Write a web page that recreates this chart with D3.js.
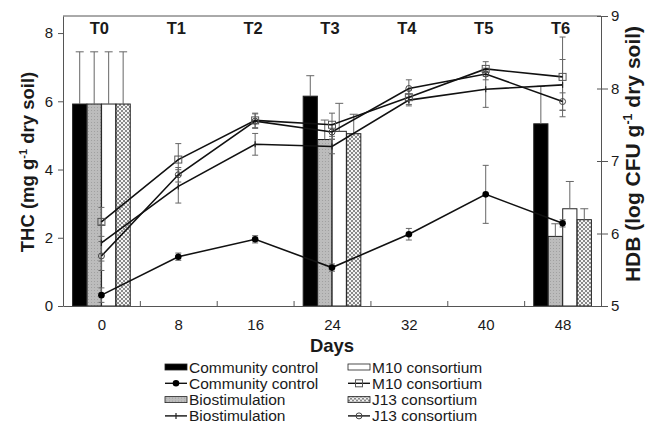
<!DOCTYPE html>
<html>
<head>
<meta charset="utf-8">
<script src="https://cdn.jsdelivr.net/npm/d3@7"></script>
<style>
    body { margin: 0; background: #fff; }
    svg text { font-family: "Liberation Sans", Arial, sans-serif; fill: #1a1a1a; }
</style>
</head>
<body>
<div id="chart"></div>
<script>
// sampling days and T labels
const lineDays = [0, 8, 16, 24, 32, 40, 48];
const stageLabels = ["T0", "T1", "T2", "T3", "T4", "T5", "T6"];
const barDays = [0, 24, 48];

// THC (bars, left axis) - value and upper error
const thcCommunity = [5.92, 6.15, 5.34];
const thcCommunityErr = [1.53, 0.6, 1.1];
const thcBiostim = [5.92, 4.88, 2.04];
const thcBiostimErr = [1.53, 0.57, 0.37];
const thcM10 = [5.92, 5.12, 2.85];
const thcM10Err = [1.53, 0.82, 0.8];
const thcJ13 = [5.92, 5.05, 2.53];
const thcJ13Err = [1.53, 0.57, 0.32];

// HDB (lines, right axis)
const hdbCommunity = [5.15, 5.68, 5.92, 5.53, 5.99, 6.54, 6.14];
const hdbCommunityErr = [0.1, 0.05, 0.05, 0.05, 0.08, 0.4, 0.05];
const hdbBiostim = [5.87, 6.65, 7.23, 7.2, 7.84, 7.99, 8.05];
const hdbBiostimErr = [0.25, 0.23, 0.15, 0.1, 0.08, 0.25, 0.35];
const hdbM10 = [6.16, 7.02, 7.56, 7.5, 7.88, 8.27, 8.16];
const hdbM10Err = [0.2, 0.22, 0.1, 0.16, 0.1, 0.1, 0.55];
const hdbJ13 = [5.69, 6.81, 7.55, 7.4, 8.0, 8.2, 7.82];
const hdbJ13Err = [0.2, 0.1, 0.1, 0.1, 0.12, 0.08, 0.12];

const xTicks = [0, 8, 16, 24, 32, 40, 48];
const xMinorTicks = [4, 12, 20, 28, 36, 44];
const leftTicks = [0, 2, 4, 6, 8];
const rightTicks = [5, 6, 7, 8, 9];

const barSeries = [
    {name: "Community control", values: thcCommunity, err: thcCommunityErr, fill: "#000"},
    {name: "Biostimulation", values: thcBiostim, err: thcBiostimErr, fill: "url(#grayTex)"},
    {name: "M10 consortium", values: thcM10, err: thcM10Err, fill: "#fff"},
    {name: "J13 consortium", values: thcJ13, err: thcJ13Err, fill: "url(#checker)"}
];
const lineSeries = [
    {name: "Community control", values: hdbCommunity, err: hdbCommunityErr, marker: "dot"},
    {name: "Biostimulation", values: hdbBiostim, err: hdbBiostimErr, marker: "plus"},
    {name: "M10 consortium", values: hdbM10, err: hdbM10Err, marker: "square"},
    {name: "J13 consortium", values: hdbJ13, err: hdbJ13Err, marker: "circle"}
];

const W = 646, H = 423;
const margin = {top: 16, right: 45, bottom: 117, left: 63};
const width = W - margin.left - margin.right;
const height = H - margin.top - margin.bottom;

const svg = d3.select("#chart").append("svg")
    .attr("width", W)
    .attr("height", H);

// fill patterns
const defs = svg.append("defs");
const tex = defs.append("pattern").attr("id", "grayTex")
    .attr("patternUnits", "userSpaceOnUse").attr("width", 3).attr("height", 3);
tex.append("rect").attr("width", 3).attr("height", 3).attr("fill", "#bcbcbc");
tex.append("rect").attr("x", 1).attr("y", 1).attr("width", 1).attr("height", 1).attr("fill", "#a0a0a0");

const chk = defs.append("pattern").attr("id", "checker")
    .attr("patternUnits", "userSpaceOnUse").attr("width", 4).attr("height", 4);
chk.append("rect").attr("width", 4).attr("height", 4).attr("fill", "#f4f4f4");
chk.append("rect").attr("width", 2).attr("height", 2).attr("fill", "#8a8a8a");
chk.append("rect").attr("x", 2).attr("y", 2).attr("width", 2).attr("height", 2).attr("fill", "#8a8a8a");

const g = svg.append("g")
    .attr("transform", "translate(" + margin.left + "," + margin.top + ")");

// scales
const x = d3.scaleLinear().domain([-4, 52]).range([0, width]);
const yL = d3.scaleLinear().domain([0, 8.5]).range([height, 0]);
const yR = d3.scaleLinear().domain([5, 9]).range([height, 0]);
const sub = d3.scaleBand()
    .domain(barSeries.map(d => d.name))
    .range([x(-3) - x(0), x(3) - x(0)])
    .paddingInner(0.02);

// bars
barSeries.forEach(s => {
    const grp = g.append("g").attr("class", "bars");
    const data = barDays.map((d, i) => ({day: d, v: s.values[i], e: s.err[i]}));
    grp.selectAll("rect")
        .data(data)
        .enter().append("rect")
        .attr("x", d => x(d.day) + sub(s.name))
        .attr("width", sub.bandwidth())
        .attr("y", d => yL(d.v))
        .attr("height", d => yL(0) - yL(d.v))
        .attr("fill", s.fill)
        .attr("stroke", "#222")
        .attr("stroke-width", 1);

    // upper error only
    const eb = grp.selectAll(".err")
        .data(data)
        .enter().append("g").attr("class", "err")
        .attr("stroke", "#666").attr("stroke-width", 1);
    eb.append("line")
        .attr("x1", d => x(d.day) + sub(s.name) + sub.bandwidth() / 2)
        .attr("x2", d => x(d.day) + sub(s.name) + sub.bandwidth() / 2)
        .attr("y1", d => yL(d.v))
        .attr("y2", d => yL(d.v + d.e));
    eb.append("line")
        .attr("x1", d => x(d.day) + sub(s.name) + sub.bandwidth() / 2 - 4)
        .attr("x2", d => x(d.day) + sub(s.name) + sub.bandwidth() / 2 + 4)
        .attr("y1", d => yL(d.v + d.e))
        .attr("y2", d => yL(d.v + d.e));
});

// line error bars
lineSeries.forEach(s => {
    const pts = lineDays.map((d, i) => ({day: d, v: s.values[i], e: s.err[i]}));
    const eb = g.append("g").attr("stroke", "#666").attr("stroke-width", 1)
        .selectAll("g").data(pts).enter().append("g");
    eb.append("line")
        .attr("x1", d => x(d.day)).attr("x2", d => x(d.day))
        .attr("y1", d => yR(d.v - d.e)).attr("y2", d => yR(d.v + d.e));
    [-1, 1].forEach(sign => {
        eb.append("line")
            .attr("x1", d => x(d.day) - 3).attr("x2", d => x(d.day) + 3)
            .attr("y1", d => yR(d.v + sign * d.e)).attr("y2", d => yR(d.v + sign * d.e));
    });
});

// lines
const line = d3.line().x(d => x(d.day)).y(d => yR(d.v));
lineSeries.forEach(s => {
    const pts = lineDays.map((d, i) => ({day: d, v: s.values[i]}));
    g.append("path")
        .datum(pts)
        .attr("d", line)
        .attr("fill", "none")
        .attr("stroke", "#111")
        .attr("stroke-width", 1.6);
});

function drawMarker(sel, type) {
    if (type === "dot") {
        sel.append("circle").attr("r", 3.3).attr("fill", "#000");
    } else if (type === "circle") {
        sel.append("circle").attr("r", 3).attr("fill", "none").attr("stroke", "#444").attr("stroke-width", 1);
    } else if (type === "square") {
        sel.append("rect").attr("x", -3.5).attr("y", -3.5).attr("width", 7).attr("height", 7)
            .attr("fill", "none").attr("stroke", "#555").attr("stroke-width", 1);
    } else if (type === "plus") {
        sel.append("line").attr("x1", 0).attr("x2", 0).attr("y1", -3).attr("y2", 3)
            .attr("stroke", "#222").attr("stroke-width", 1.2);
    }
}

lineSeries.forEach(s => {
    lineDays.forEach((d, i) => {
        const m = g.append("g").attr("transform", "translate(" + x(d) + "," + yR(s.values[i]) + ")");
        drawMarker(m, s.marker);
    });
});

// frame
g.append("line").attr("x1", 0).attr("x2", width).attr("y1", 0).attr("y2", 0)
    .attr("stroke", "#555").attr("stroke-width", 1);

// axes
g.append("g").attr("class", "x-axis")
    .attr("transform", "translate(0," + height + ")")
    .call(d3.axisBottom(x).tickValues(xTicks).tickSize(0).tickSizeOuter(0).tickPadding(13));
g.append("g")
    .attr("transform", "translate(0," + height + ")")
    .call(d3.axisBottom(x).tickValues(xMinorTicks).tickSize(-5).tickSizeOuter(0).tickFormat(""))
    .call(a => a.select(".domain").remove());

g.append("g").attr("class", "y-axis")
    .call(d3.axisLeft(yL).tickValues(leftTicks).tickSize(5).tickSizeOuter(0).tickPadding(5));

const rightAxis = g.append("g").attr("class", "y-axis")
    .attr("transform", "translate(" + width + ",0)")
    .call(d3.axisRight(yR).tickValues(rightTicks).tickFormat(d3.format("d"))
        .tickSize(7).tickSizeOuter(0).tickPadding(3));
rightAxis.selectAll(".tick line").attr("x1", -4);

g.selectAll(".domain").attr("stroke", "#555");
g.selectAll(".tick line").attr("stroke", "#555");
g.selectAll(".tick text").attr("font-size", "15px").attr("fill", "#1a1a1a");

// T labels at top
g.append("g").selectAll("text")
    .data(lineDays.map((d, i) => ({day: d, label: stageLabels[i]})))
    .enter().append("text")
    .attr("x", d => x(d.day) - 2)
    .attr("y", 18)
    .attr("text-anchor", "middle")
    .attr("font-size", "16.5px")
    .attr("font-weight", "bold")
    .text(d => d.label);

// axis titles
g.append("text")
    .attr("x", x(24))
    .attr("y", height + 46)
    .attr("text-anchor", "middle")
    .attr("font-size", "18.5px")
    .attr("font-weight", "bold")
    .text("Days");

const yTitle = svg.append("text")
    .attr("transform", "translate(34," + 162 + ") rotate(-90)")
    .attr("text-anchor", "middle")
    .attr("font-size", "18.5px")
    .attr("font-weight", "bold");
yTitle.append("tspan").text("THC (mg g");
yTitle.append("tspan").attr("dy", -7).attr("font-size", "11px").text("-1");
yTitle.append("tspan").attr("dy", 7).text(" dry soil)");

const yTitleR = svg.append("text")
    .attr("transform", "translate(640," + 154 + ") rotate(-90)")
    .attr("text-anchor", "middle")
    .attr("font-size", "21px")
    .attr("font-weight", "bold");
yTitleR.append("tspan").text("HDB (log CFU g");
yTitleR.append("tspan").attr("dy", -8).attr("font-size", "12.5px").text("-1");
yTitleR.append("tspan").attr("dy", 8).text(" dry soil)");

// legend
const legendItems = [];
barSeries.forEach((s, i) => {
    legendItems.push({name: s.name, kind: "bar", fill: s.fill, col: Math.floor(i / 2), row: (i % 2) * 2});
    legendItems.push({name: lineSeries[i].name, kind: "line", marker: lineSeries[i].marker, col: Math.floor(i / 2), row: (i % 2) * 2 + 1});
});
const legend = svg.append("g").attr("class", "legend");
const colX = [165, 348];
const rowY0 = 367, rowStep = 16.3;
legendItems.forEach(it => {
    const lg = legend.append("g")
        .attr("transform", "translate(" + colX[it.col] + "," + (rowY0 + it.row * rowStep) + ")");
    if (it.kind === "bar") {
        lg.append("rect").attr("x", 0).attr("y", -3).attr("width", 22).attr("height", 6)
            .attr("fill", it.fill).attr("stroke", "#222").attr("stroke-width", 0.8);
    } else {
        lg.append("line").attr("x1", 0).attr("x2", 22).attr("y1", 0).attr("y2", 0)
            .attr("stroke", "#111").attr("stroke-width", 1.4);
        const m = lg.append("g").attr("transform", "translate(11,0)");
        drawMarker(m, it.marker);
    }
    lg.append("text")
        .attr("x", 24)
        .attr("y", 5.5)
        .attr("font-size", "15.5px")
        .text(it.name);
});
</script>
</body>
</html>
